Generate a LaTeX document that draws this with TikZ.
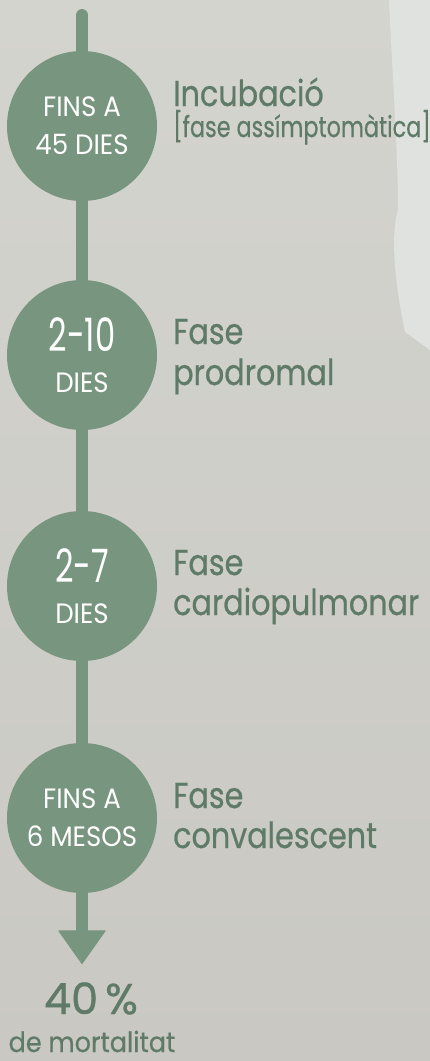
\documentclass[tikz,border=0pt]{standalone}
\usepackage{fontspec}
\setmainfont{Poppins}
\newfontfamily\labfont[FakeStretch=0.84,FakeBold=0.6]{Poppins}
\newfontfamily\subfont[FakeStretch=0.77,FakeBold=0.5]{Poppins}
\newfontfamily\pctfont[FakeStretch=1.0,FakeBold=0.8]{Poppins}
\newfontfamily\mortfont[FakeStretch=0.91,FakeBold=0.5]{Poppins}
\newfontfamily\circfont[FakeStretch=0.93]{Poppins}
\newfontfamily\numfont[FakeStretch=0.7]{Poppins}
\usetikzlibrary{arrows.meta}
\definecolor{bgtop}{HTML}{D4D4CE}
\definecolor{bgbot}{HTML}{C9C8C2}
\definecolor{paper}{HTML}{DFE2DF}
\definecolor{sage}{HTML}{78957F}
\definecolor{sagetext}{HTML}{5F7B67}
\begin{document}
\begin{tikzpicture}[x=1pt,y=-1pt,
  stage/.style={circle, fill=sage, minimum size=150pt, inner sep=0pt, text=white,
    align=center, font=\circfont\fontsize{28}{38}\selectfont},
  spine/.style={draw=sage, line width=12pt},
  lab/.style={anchor=base west, text=sagetext, inner sep=0pt,
    font=\labfont\fontsize{36}{40}\selectfont},
  sublab/.style={lab, font=\subfont\fontsize{29}{32}\selectfont},
  big/.style={anchor=base, text=sagetext, inner sep=0pt,
    font=\pctfont\fontsize{43}{46}\selectfont},
  small/.style={anchor=base, text=sagetext, inner sep=0pt,
    font=\mortfont\fontsize{28}{32}\selectfont}
]
\useasboundingbox (0,0) rectangle (430,1061);
\shade[top color=bgtop, bottom color=bgbot] (0,0) rectangle (430,1061);
\fill[paper] (389,0) .. controls (392,70) and (398,150) .. (398,210)
  .. controls (392,228) and (392,270) .. (405,332) -- (430,350) -- (430,0) -- cycle;

\coordinate (top) at (82,15);
\coordinate (tip) at (82,964);
\node[stage] (c1) at (82,126) {FINS A\\45 DIES};
\node[stage] (c2) at (82,355) {{\numfont\fontsize{46}{38}\selectfont 2-10}\\[3pt]DIES};
\node[stage] (c3) at (82,586) {{\numfont\fontsize{46}{38}\selectfont 2-7}\\[3pt]DIES};
\node[stage] (c4) at (82,818) {FINS A\\6 MESOS};

\draw[spine, line cap=round] (top) -- (c1);
\draw[spine] (c1) -- (c2);
\draw[spine] (c2) -- (c3);
\draw[spine] (c3) -- (c4);
\draw[spine, -{Triangle[width=48pt,length=34pt,line width=1pt,round]}] (c4) -- (tip);

\node[lab] (l1a) at (173,106) {Incubació};
\node[sublab] (l1b) at (173,137) {[fase assímptomàtica]};
\node[lab] (l2a) at (173,344) {Fase};
\node[lab] (l2b) at (173,385) {prodromal};
\node[lab] (l3a) at (173,575) {Fase};
\node[lab] (l3b) at (173,615) {cardiopulmonar};
\node[lab] (l4a) at (173,808) {Fase};
\node[lab] (l4b) at (173,848) {convalescent};

\node[big] (pct) at (91,1014) {40\,\%};
\node[small] (mort) at (92,1052) {de mortalitat};
\end{tikzpicture}
\end{document}
